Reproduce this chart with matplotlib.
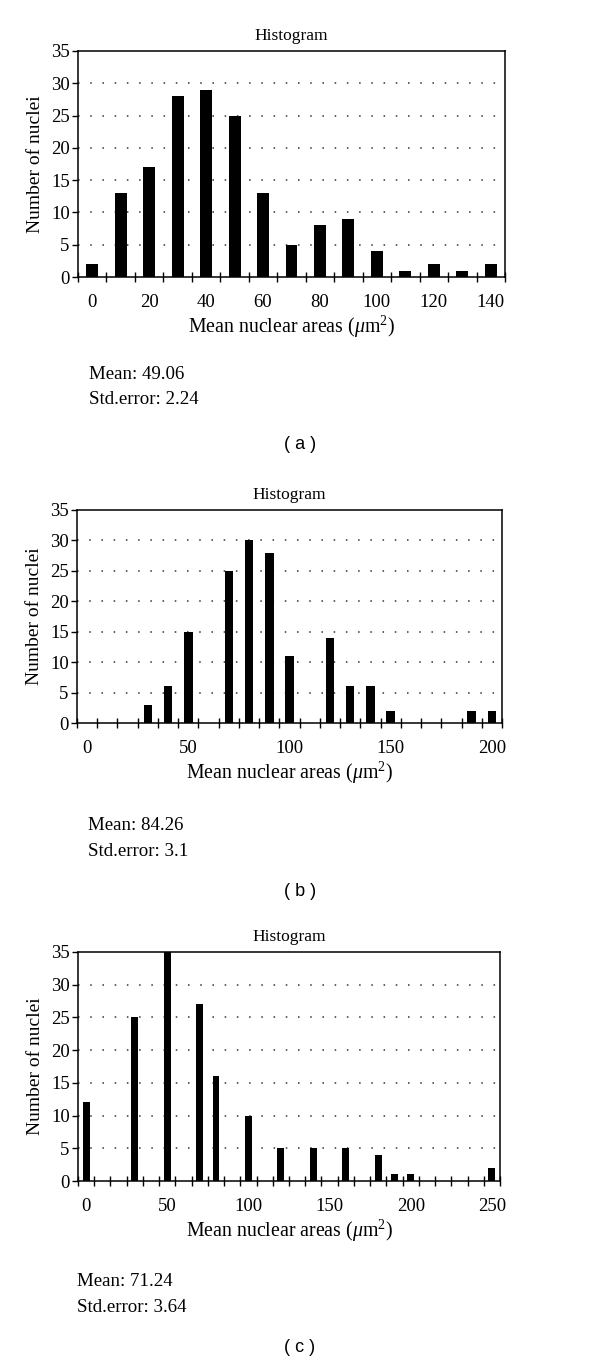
import numpy as np
import matplotlib
matplotlib.use('Agg')
import matplotlib.pyplot as plt

plt.rcParams['font.family'] = ['Liberation Serif', 'DejaVu Serif']
plt.rcParams['mathtext.fontset'] = 'custom'
plt.rcParams['mathtext.rm'] = 'Liberation Serif'
plt.rcParams['mathtext.it'] = 'Liberation Serif:italic'

# panel (a): bins 0..140 step 10
bins_a = np.arange(0, 150, 10)
counts_a = [2, 13, 17, 28, 29, 25, 13, 5, 8, 9, 4, 1, 2, 1, 2]
# panel (b): bins 0..200 step 10
bins_b = np.arange(0, 210, 10)
counts_b = [0, 0, 0, 3, 6, 15, 0, 25, 30, 28, 11, 0, 14, 6, 6, 2, 0, 0, 0, 2, 2]
# panel (c): bins 0..250 step 10
bins_c = np.arange(0, 260, 10)
counts_c = [12, 0, 0, 25, 0, 35, 0, 27, 16, 0, 10, 0, 5, 0, 5, 0, 5, 0, 4, 1, 1,
            0, 0, 0, 0, 2]

stats = [('49.06', '2.24'), ('84.26', '3.1'), ('71.24', '3.64')]
panel_names = ['( a )', '( b )', '( c )']

W, H = 600, 1363
fig = plt.figure(figsize=(W / 100, H / 100), dpi=100)

# pixel boxes: left, right, top, bottom
boxes = [(78, 505, 51, 277), (77, 502, 510, 723), (78, 500, 952, 1181)]
label_step = [2, 5, 5]
text_x = [89, 88, 77]
mean_y = [375, 826, 1282]
name_y = [445, 891, 1347]


def pbox(l, r, t, b):
    return [l / W, 1 - b / H, (r - l) / W, (b - t) / H]


for i, (bins, counts) in enumerate([(bins_a, counts_a), (bins_b, counts_b), (bins_c, counts_c)]):
    l, r, t, b = boxes[i]
    ax = fig.add_axes(pbox(l, r, t, b))
    n = len(bins)
    x = np.arange(n)
    ax.bar(x, counts, width=0.42, color='black', zorder=3)
    ax.set_xlim(-0.5, n - 0.5)
    ax.set_ylim(0, 35)
    ax.set_yticks(np.arange(0, 36, 5))
    for yv in range(5, 35, 5):
        ax.axhline(yv, color='#333333', lw=1.1, linestyle=(0, (1, 7)), zorder=1)
    ax.set_xticks(np.arange(n + 1) - 0.5)
    ax.set_xticklabels([])
    ax.set_xticks(x[::label_step[i]], minor=True)
    ax.set_xticklabels([str(v) for v in bins[::label_step[i]]], minor=True, fontsize=13.5)
    ax.tick_params(axis='x', which='major', direction='inout', length=7, width=1)
    ax.tick_params(axis='x', which='minor', length=0, pad=12)
    ax.tick_params(axis='y', direction='out', length=4, width=1, labelsize=13.5, pad=2)
    for s in ax.spines.values():
        s.set_linewidth(1.1)
    ax.set_title('Histogram', fontsize=12.5, pad=8)
    ax.set_ylabel('Number of nuclei', fontsize=14, labelpad=5)
    ax.set_xlabel(r'Mean nuclear areas ($\mathit{\mu}$m$^2$)', fontsize=14.3, labelpad=2)

    m, se = stats[i]
    fig.text(text_x[i] / W, 1 - mean_y[i] / H, 'Mean: ' + m, fontsize=13.6, va='center')
    fig.text(text_x[i] / W, 1 - (mean_y[i] + 25) / H, 'Std.error: ' + se, fontsize=13.6, va='center')
    fig.text(0.5, 1 - name_y[i] / H, panel_names[i], fontsize=13, ha='center', va='center',
             family='Liberation Sans')

fig.savefig('out.png', dpi=100)
